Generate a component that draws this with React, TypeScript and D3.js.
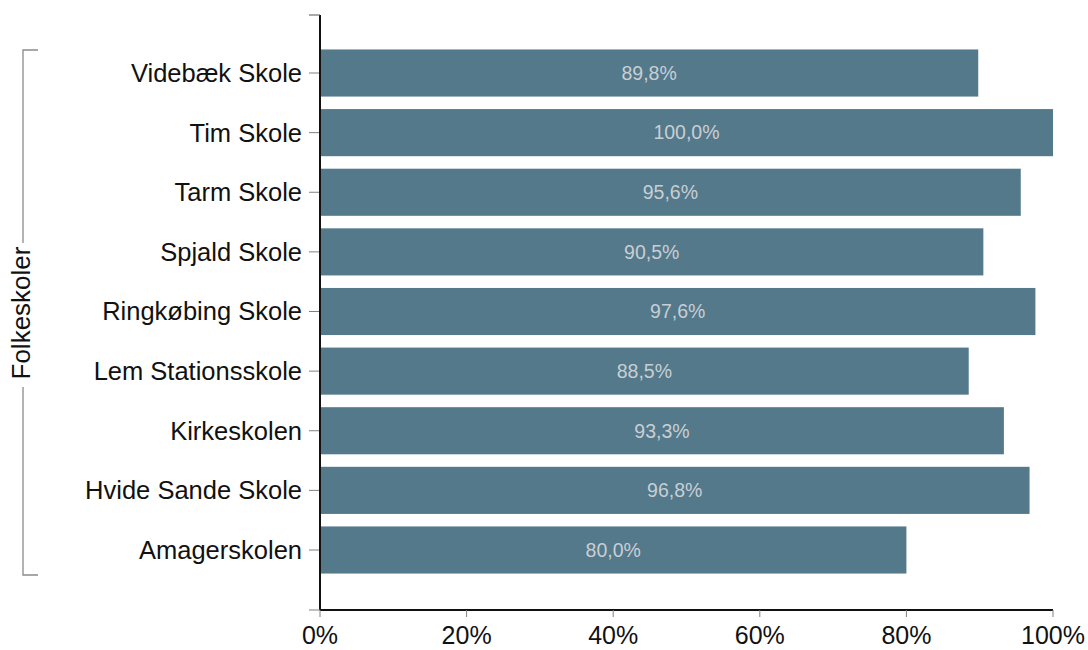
import React from "react";
import * as d3 from "d3";

const categories = [
  "Videbæk Skole",
  "Tim Skole",
  "Tarm Skole",
  "Spjald Skole",
  "Ringkøbing Skole",
  "Lem Stationsskole",
  "Kirkeskolen",
  "Hvide Sande Skole",
  "Amagerskolen",
];
const values = [89.8, 100.0, 95.6, 90.5, 97.6, 88.5, 93.3, 96.8, 80.0];
const xTicks = [0, 20, 40, 60, 80, 100];
const groupLabel = "Folkeskoler";

const W = 1088;
const H = 650;
const x0 = 320;
const x1 = 1053;
const yTop = 15;
const yBot = 610;
const font = "Arial, 'Liberation Sans', sans-serif";

export default function App() {
  const x = d3.scaleLinear().domain([0, 100]).range([x0, x1]);
  const y = d3
    .scaleBand<string>()
    .domain(categories)
    .range([yTop, yBot - 2])
    .paddingInner(0.21)
    .paddingOuter(0.578);
  const fmt = (v: number) => v.toFixed(1).replace(".", ",") + "%";
  const bw = y.bandwidth();
  const brTop = 50;
  const brBot = 575;
  const brMid = 313;

  return (
    <svg
      width={W}
      height={H}
      style={{ position: "absolute", left: 0, top: 0, background: "#fff" }}
    >
      {/* bars */}
      {categories.map((c, i) => (
        <g key={c}>
          <rect
            x={x(0)}
            y={y(c)}
            width={x(values[i]) - x(0)}
            height={bw}
            fill="#53798b"
          />
          <text
            x={(x(0) + x(values[i])) / 2}
            y={(y(c) as number) + bw / 2}
            dy="0.35em"
            textAnchor="middle"
            fontFamily={font}
            fontSize={19.5}
            fill="#c9ced3"
          >
            {fmt(values[i])}
          </text>
          <line
            x1={x0 - 11}
            x2={x0}
            y1={(y(c) as number) + bw / 2}
            y2={(y(c) as number) + bw / 2}
            stroke="#808080"
            strokeWidth={1}
          />
          <text
            x={302}
            y={(y(c) as number) + bw / 2}
            dy="0.35em"
            textAnchor="end"
            fontFamily={font}
            fontSize={25.5}
            fill="#111"
          >
            {c}
          </text>
        </g>
      ))}
      {/* y axis */}
      <line x1={x0} x2={x0} y1={yTop} y2={yBot} stroke="#111" strokeWidth={2} />
      <line x1={x0 - 11} x2={x0} y1={yTop} y2={yTop} stroke="#555" strokeWidth={1} />
      <line x1={x0 - 11} x2={x0} y1={yBot} y2={yBot} stroke="#808080" strokeWidth={1} />
      {/* x axis */}
      <line x1={x0} x2={x1} y1={yBot} y2={yBot} stroke="#111" strokeWidth={2} />
      {xTicks.map((t) => (
        <g key={t}>
          <line x1={x(t)} x2={x(t)} y1={yBot} y2={yBot + 7} stroke="#808080" strokeWidth={1} />
          <text
            x={x(t)}
            y={644}
            textAnchor="middle"
            fontFamily={font}
            fontSize={25}
            fill="#111"
          >
            {t}%
          </text>
        </g>
      ))}
      {/* group bracket */}
      <path
        d={`M38,${brTop}H23V${brBot}H38`}
        fill="none"
        stroke="#8a8a8a"
        strokeWidth={1.3}
      />
      <rect x={8} y={243} width={30} height={144} fill="#fff" />
      <text
        transform={`translate(21,${brMid}) rotate(-90)`}
        dy="0.35em"
        textAnchor="middle"
        fontFamily={font}
        fontSize={26}
        fill="#111"
      >
        {groupLabel}
      </text>
    </svg>
  );
}
